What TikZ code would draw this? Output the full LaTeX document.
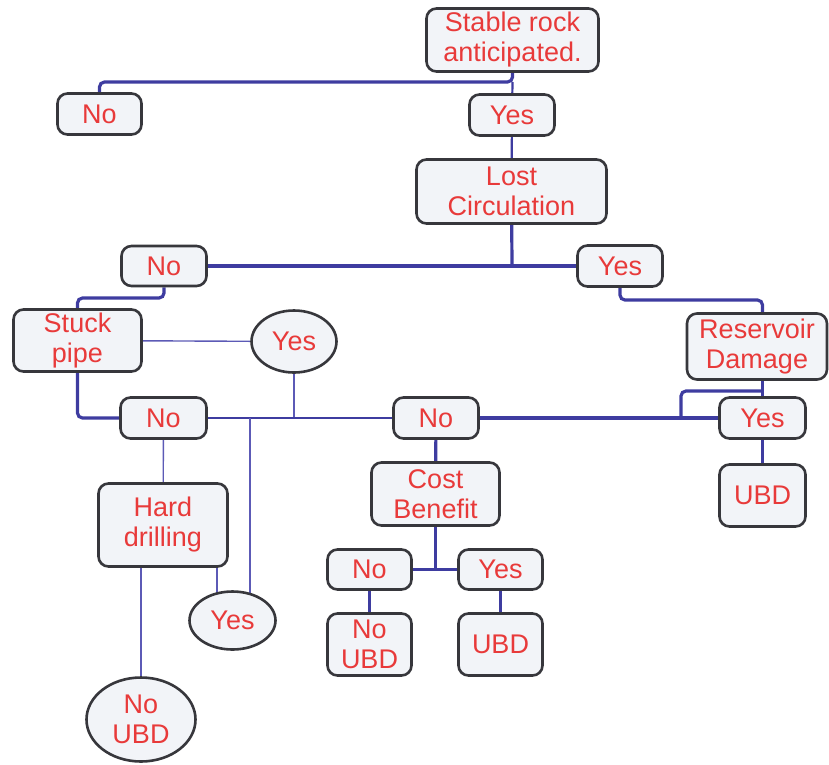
\documentclass[tikz,border=0pt]{standalone}
\usepackage{fontspec}
\setmainfont{Liberation Sans}
\usetikzlibrary{shapes.geometric,backgrounds}

\definecolor{boxedge}{RGB}{55,55,60}
\definecolor{boxfill}{RGB}{242,244,248}
\definecolor{txtred}{RGB}{232,58,58}
\definecolor{wireblue}{RGB}{62,60,160}
\definecolor{thinblue}{RGB}{92,90,182}

\tikzset{
  choice/.style={draw=boxedge, line width=2.6pt, fill=boxfill, text=txtred,
                 rounded corners=10pt, align=center, inner sep=0pt,
                 font=\fontsize{27}{30}\selectfont},
  oval/.style={choice, ellipse, rounded corners=0pt},
  wire/.style={draw=wireblue, line width=3.2pt, rounded corners=5pt},
  midwire/.style={draw=wireblue, line width=2.2pt},
  thinwire/.style={draw=thinblue, line width=1.4pt},
}

\begin{document}
\begin{tikzpicture}[x=1pt,y=-1pt]
\useasboundingbox (0,0) rectangle (829,764);

% Boxes
\node [choice, minimum width=172, minimum height=63] (stable) at (512.5,40) {Stable rock\\anticipated.};
\node [choice, minimum width=84, minimum height=41] (noA) at (99.5,114) {No};
\node [choice, minimum width=85, minimum height=41] (yesA) at (512,115) {Yes};
\node [choice, minimum width=190, minimum height=64] (lost) at (511.5,191.5) {Lost\\Circulation};
\node [choice, minimum width=85, minimum height=40] (noB) at (164,266) {No};
\node [choice, minimum width=85, minimum height=41] (yesB) at (620,266) {Yes};
\node [choice, minimum width=128, minimum height=62] (stuck) at (77.5,340.5) {Stuck\\pipe};
\node [oval, minimum width=85, minimum height=62] (yesC) at (294,341.5) {Yes};
\node [choice, minimum width=140, minimum height=66] (reservoir) at (757,346.5) {Reservoir\\Damage};
\node [choice, minimum width=86, minimum height=41] (noC) at (163.5,418) {No};
\node [choice, minimum width=85, minimum height=41] (noD) at (436,418) {No};
\node [choice, minimum width=86, minimum height=41] (yesD) at (762.5,418) {Yes};
\node [choice, minimum width=129, minimum height=83] (hard) at (163,525) {Hard\\drilling};
\node [choice, minimum width=128, minimum height=63] (cost) at (435.5,494) {Cost\\Benefit};
\node [choice, minimum width=86, minimum height=62] (ubdR) at (762.5,495.5) {UBD};
\node [oval, minimum width=86, minimum height=58] (yesE) at (232.5,620.5) {Yes};
\node [oval, minimum width=109, minimum height=84] (noubdE) at (141,719.5) {No\\UBD};
\node [choice, minimum width=84, minimum height=40] (noF) at (369.5,569.5) {No};
\node [choice, minimum width=84, minimum height=40] (yesF) at (500.5,569.5) {Yes};
\node [choice, minimum width=84, minimum height=62] (noubdF) at (369.5,644.5) {No\\UBD};
\node [choice, minimum width=84, minimum height=62] (ubdF) at (500.5,644.5) {UBD};

% Junctions
\coordinate (jA) at (512.5,82);
\coordinate (jB) at (512,266);
\coordinate (jC) at (164,298);
\coordinate (jD) at (620,300);
\coordinate (jE) at (762.5,300);
\coordinate (jF) at (762.5,391);
\coordinate (jG) at (681,418);
\coordinate (jH) at (294,418);
\coordinate (jI) at (250,418);
\coordinate (jJ) at (217,566);
\coordinate (jK) at (435.5,570);

% Connectors
\begin{scope}[on background layer]
\draw [wire] (stable) -- (jA) -| (noA);
\draw [midwire] (jA) -- (yesA);
\draw [midwire] (yesA) -- (lost);
\draw [wire] (lost) -- (jB);
\draw [wire] (noB) -- (yesB);
\draw [wire] (noB) -- (jC) -| (stuck);
\draw [wire] (yesB) -- (jD) -- (jE) -- (jE |- reservoir.center);
\draw [wire] (jE |- reservoir.center) -- (yesD);
\draw [wire] (jF) -| (jG);
\draw [wire] (stuck) |- (noC);
\draw [thinwire] (stuck) -- (yesC);
\draw [thinwire] (yesC) -- (jH);
\draw [midwire] (noC) -- (noD);
\draw [wire] (noD) -- (yesD);
\draw [thinwire] (jI) -- (jI |- yesE.center);
\draw [thinwire] (noC) -- (hard);
\draw [thinwire] (jJ) -- (jJ |- yesE.center);
\draw [thinwire] (hard.center -| noubdE) -- (noubdE);
\draw [wire] (noD) -- (cost);
\draw [wire] (cost) -- (jK);
\draw [wire] (noF) -- (yesF);
\draw [midwire] (noF) -- (noubdF);
\draw [midwire] (yesF) -- (ubdF);
\draw [midwire] (yesD) -- (ubdR);
\end{scope}

\end{tikzpicture}
\end{document}
